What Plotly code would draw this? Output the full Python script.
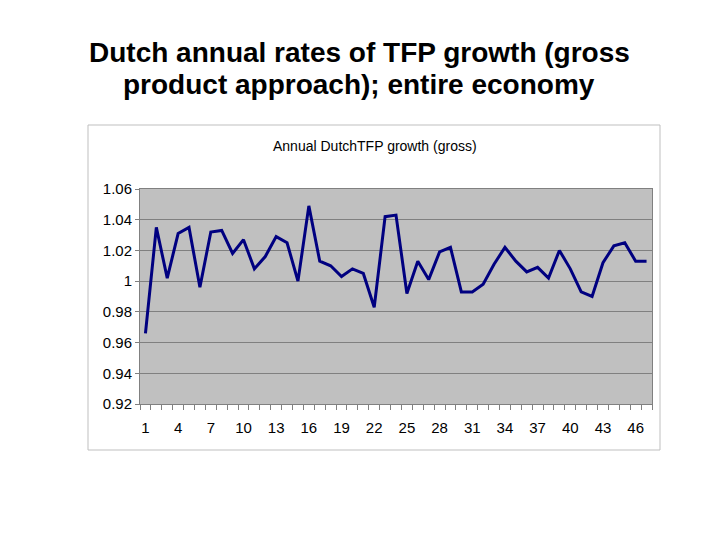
import plotly.graph_objects as go

# Annual Dutch TFP growth (gross product approach), index 1..47
periods = list(range(1, 48))
tfp_growth = [
    0.966, 1.035, 1.002, 1.031, 1.035, 0.996, 1.032, 1.033, 1.018, 1.027,
    1.008, 1.016, 1.029, 1.025, 1.000, 1.049, 1.013, 1.010, 1.003, 1.008,
    1.005, 0.983, 1.042, 1.043, 0.992, 1.013, 1.001, 1.019, 1.022, 0.993,
    0.993, 0.998, 1.011, 1.022, 1.013, 1.006, 1.009, 1.002, 1.020, 1.008,
    0.993, 0.990, 1.012, 1.023, 1.025, 1.013, 1.013,
]
x_ticks = list(range(1, 48, 3))
y_ticks = [0.92, 0.94, 0.96, 0.98, 1.00, 1.02, 1.04, 1.06]
y_labels = ["0.92", "0.94", "0.96", "0.98", "1", "1.02", "1.04", "1.06"]
title_lines = ["Dutch annual rates of TFP growth (gross", "product approach); entire economy"]

FONT = "Arial, Liberation Sans, sans-serif"

# page body adds an 8px offset; plot area wanted on screen at x 140..652, y 189..404
OFF = 8
L, R, T, B = 140 - OFF, 652 - OFF, 189 - OFF, 404 - OFF
W, H = R - L, B - T


def px_x(x):
    return (x - OFF - L) / W


def px_y(y):
    return (B - (y - OFF)) / H


fig = go.Figure(
    go.Scatter(
        x=periods,
        y=tfp_growth,
        mode="lines",
        line={"color": "#000080", "width": 3},
        hoverinfo="x+y",
    )
)

# slide title, one annotation per line to get the tighter line spacing
annotations = [
    {
        "text": f"<b>{line}</b>",
        "xref": "paper",
        "yref": "paper",
        "x": px_x(359),
        "y": px_y(yc),
        "xanchor": "center",
        "yanchor": "middle",
        "showarrow": False,
        "font": {"family": FONT, "size": 28, "color": "black"},
    }
    for line, yc in zip(title_lines, [52, 85])
]
annotations.append(
    {
        "text": "Annual DutchTFP growth (gross)",
        "xref": "paper",
        "yref": "paper",
        "x": px_x(375),
        "y": px_y(146),
        "xanchor": "center",
        "yanchor": "middle",
        "showarrow": False,
        "font": {"family": FONT, "size": 14, "color": "black"},
    }
)

fig.update_layout(
    width=720,
    height=540,
    margin={"l": L, "r": 720 - R, "t": T, "b": 540 - B},
    paper_bgcolor="white",
    plot_bgcolor="#C0C0C0",
    showlegend=False,
    font={"family": FONT, "color": "black"},
    shapes=[
        {
            "type": "rect",
            "xref": "paper",
            "yref": "paper",
            "x0": px_x(88),
            "x1": px_x(660),
            "y0": px_y(450),
            "y1": px_y(125),
            "line": {"color": "#BFBFBF", "width": 1},
            "layer": "below",
        }
    ],
    annotations=annotations,
)

fig.update_xaxes(
    range=[0.5, 47.5],
    tickmode="array",
    tickvals=x_ticks,
    ticks="",
    tickfont={"size": 15},
    showgrid=False,
    zeroline=False,
    showline=True,
    linecolor="#808080",
    mirror=True,
    ticklabelstandoff=10,
    minor={
        "tickmode": "linear",
        "tick0": 0.5,
        "dtick": 1,
        "ticks": "outside",
        "ticklen": 5,
        "tickcolor": "#808080",
        "showgrid": False,
    },
)

fig.update_yaxes(
    range=[0.92, 1.06],
    tickmode="array",
    tickvals=y_ticks,
    ticktext=y_labels,
    ticks="outside",
    ticklen=4,
    tickcolor="#808080",
    tickfont={"size": 15},
    showgrid=True,
    gridcolor="#808080",
    gridwidth=1,
    zeroline=False,
    showline=True,
    linecolor="#808080",
    mirror=True,
)

fig.write_html("out.html")
